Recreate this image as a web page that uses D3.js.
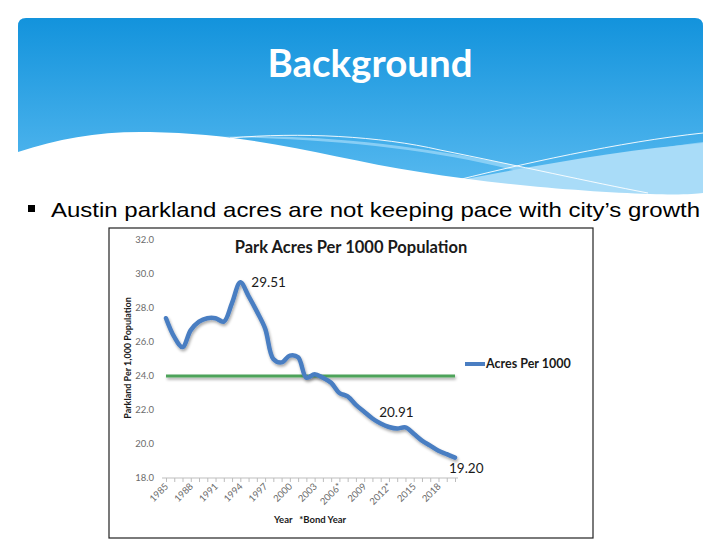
<!DOCTYPE html>
<html><head><meta charset="utf-8">
<script src="https://cdn.jsdelivr.net/npm/d3@7"></script>
<style>body{margin:0;background:#fff}svg{display:block}</style>
</head><body>
<svg id="c" width="720" height="540"></svg>
<script>
// ---- data ----
const years = [1985,1986,1987,1988,1989,1990,1991,1992,1993,1994,1995,1996,1997,1998,1999,2000,2001,2002,2003,2004,2005,2006,2007,2008,2009,2010,2011,2012,2013,2014,2015,2016,2017,2018,2019,2020];
const acresPer1000 = [27.4,26.3,25.7,26.7,27.2,27.4,27.4,27.2,28.3,29.51,28.7,27.8,26.8,25.0,24.8,25.2,25.1,23.9,24.1,23.9,23.6,23.0,22.8,22.3,21.9,21.5,21.2,21.0,20.91,20.98,20.6,20.2,19.9,19.6,19.4,19.2];
const targetLevel = 24.0;
const yTicks = [18,20,22,24,26,28,30,32];
const xTickYears = [1985,1988,1991,1994,1997,2000,2003,2006,2009,2012,2015,2018];
const xTickLabels = ["1985","1988","1991","1994","1997","2000","2003","2006*","2009","2012*","2015","2018"];
const labeledPoints = [{year:1994,text:"29.51"},{year:2013,text:"20.91"},{year:2020,text:"19.20"}];
const slideTitle = "Background";
const bulletText = "Austin parkland acres are not keeping pace with city\u2019s growth";
const chartTitle = "Park Acres Per 1000 Population";
const legendLabel = "Acres Per 1000";
const yAxisTitle = "Parkland Per 1,000 Population";
const xAxisTitle = "Year   *Bond Year";

const svg = d3.select("#c");
const defs = svg.append("defs");
const g1 = defs.append("linearGradient").attr("id","bann").attr("x1",0).attr("y1",0).attr("x2",0).attr("y2",1);
g1.append("stop").attr("offset","0%").attr("stop-color","#1393dc");
g1.append("stop").attr("offset","100%").attr("stop-color","#5cbcf1");
const f = defs.append("filter").attr("id","sh").attr("filterUnits","userSpaceOnUse")
  .attr("x",100).attr("y",220).attr("width",500).attr("height",320);
f.append("feGaussianBlur").attr("in","SourceAlpha").attr("stdDeviation",1.8).attr("result","b");
f.append("feOffset").attr("in","b").attr("dx",0.5).attr("dy",1.5).attr("result","o");
f.append("feComponentTransfer").attr("in","o").attr("result","o2").append("feFuncA").attr("type","linear").attr("slope",0.35);
const fm = f.append("feMerge"); fm.append("feMergeNode").attr("in","o2"); fm.append("feMergeNode").attr("in","SourceGraphic");

// ---- banner ----
svg.append("path").attr("fill","url(#bann)")
  .attr("d","M18,26 Q18,18 26,18 L695,18 Q703,18 703,26 L703,200 L18,200 Z");
svg.append("path").attr("fill","#8fd1f6").attr("opacity",0.9)
  .attr("d","M215,137 C330,132 450,150 560,175 C600,184 630,190 650,194 L703,194 L703,142 C640,150 560,165 520,172 C440,150 330,138 215,137 Z");
svg.append("path").attr("fill","#a9dcf8")
  .attr("d","M430,186 C520,168 620,150 703,143 L703,198 L430,198 Z");
svg.append("path").attr("fill","#fff")
  .attr("d","M18,152 C60,138 100,131 150,132 C260,134 330,158 420,172 C500,185 590,192 650,194 C680,195 695,194 703,193 L703,205 L18,205 Z");
svg.append("path").attr("fill","none").attr("stroke","#fff").attr("stroke-width",0.9)
  .attr("d","M230,138 C300,132 380,136 440,150 C520,166 590,182 648,193");
svg.append("path").attr("fill","none").attr("stroke","#fff").attr("stroke-width",0.9)
  .attr("d","M442,184 C520,164 620,142 703,133");
svg.append("text").attr("x",370).attr("y",77).attr("text-anchor","middle")
  .attr("font-family","Lato").attr("font-weight","bold").attr("font-size",38).attr("fill","#fff")
  .attr("textLength",205).attr("lengthAdjust","spacingAndGlyphs").text(slideTitle);

// ---- bullet ----
svg.append("rect").attr("x",28).attr("y",205).attr("width",7).attr("height",7).attr("fill","#000");
svg.append("text").attr("x",51).attr("y",217).attr("font-family","Liberation Sans, Arial").attr("font-size",21).attr("fill","#000")
  .attr("textLength",649).attr("lengthAdjust","spacingAndGlyphs").text(bulletText);

// ---- chart frame ----
svg.append("rect").attr("x",109).attr("y",228).attr("width",484).attr("height",310).attr("fill","#fff").attr("stroke","#222").attr("stroke-width",1.2);

const x = d3.scaleLinear().domain([1985,2020]).range([166,455]);
const y = d3.scaleLinear().domain([18,32]).range([478,240]);

svg.append("g").selectAll("text").data(yTicks).join("text")
  .attr("x",154).attr("y",d=>y(d)+3).attr("text-anchor","end")
  .attr("font-family","Lato").attr("font-size",9.5).attr("fill","#6b6b6b").text(d=>d.toFixed(1));

const xa = svg.append("g").attr("transform","translate(0,478)")
  .call(d3.axisBottom(x).tickValues(d3.range(1985,2021)).tickSize(4).tickFormat(""));
xa.select(".domain").attr("stroke","#bdbdbd").attr("d","M162,0H458");
xa.selectAll(".tick line").attr("stroke","#bdbdbd");
svg.append("g").selectAll("text").data(xTickYears).join("text")
  .attr("transform",d=>`translate(${x(d)+3},487) rotate(-45)`).attr("text-anchor","end")
  .attr("font-family","Lato").attr("font-size",9.5).attr("fill","#6b6b6b")
  .text((d,i)=>xTickLabels[i]);

svg.append("text").attr("x",351).attr("y",253).attr("text-anchor","middle")
  .attr("font-family","Lato").attr("font-weight","bold").attr("font-size",16.5).attr("fill","#1a1a1a").text(chartTitle);
svg.append("text").attr("transform","translate(131,358) rotate(-90)").attr("text-anchor","middle")
  .attr("font-family","Lato").attr("font-weight","bold").attr("font-size",9).attr("fill","#1a1a1a").text(yAxisTitle);
svg.append("text").attr("x",274).attr("y",523).style("white-space","pre")
  .attr("font-family","Lato").attr("font-weight","bold").attr("font-size",9.5).attr("fill","#1a1a1a").text(xAxisTitle);

svg.append("line").attr("x1",x(1985)).attr("x2",x(2020)).attr("y1",y(targetLevel)).attr("y2",y(targetLevel))
  .attr("stroke","#4ea35a").attr("stroke-width",3).attr("filter","url(#sh)");

const line = d3.line().x((d,i)=>x(years[i])).y(d=>y(d)).curve(d3.curveCatmullRom.alpha(0.5));
svg.append("path").datum(acresPer1000).attr("d",line).attr("fill","none")
  .attr("stroke","#4a7ec2").attr("stroke-width",4.5).attr("stroke-linejoin","round").attr("stroke-linecap","round").attr("filter","url(#sh)");

const lblOff = {"29.51":[11,5],"20.91":[-18,-12],"19.20":[-6,15]};
svg.append("g").selectAll("text").data(labeledPoints).join("text")
  .attr("x",d=>x(d.year)+lblOff[d.text][0])
  .attr("y",d=>y(acresPer1000[years.indexOf(d.year)])+lblOff[d.text][1])
  .attr("font-family","Lato").attr("font-size",13.5).attr("fill","#1a1a1a").text(d=>d.text);

svg.append("line").attr("x1",465).attr("x2",485).attr("y1",364).attr("y2",364).attr("stroke","#4a7ec2").attr("stroke-width",4);
svg.append("text").attr("x",486).attr("y",368).attr("font-family","Lato").attr("font-weight","bold").attr("font-size",12.5).attr("fill","#1a1a1a").text(legendLabel);
</script>
</body></html>
